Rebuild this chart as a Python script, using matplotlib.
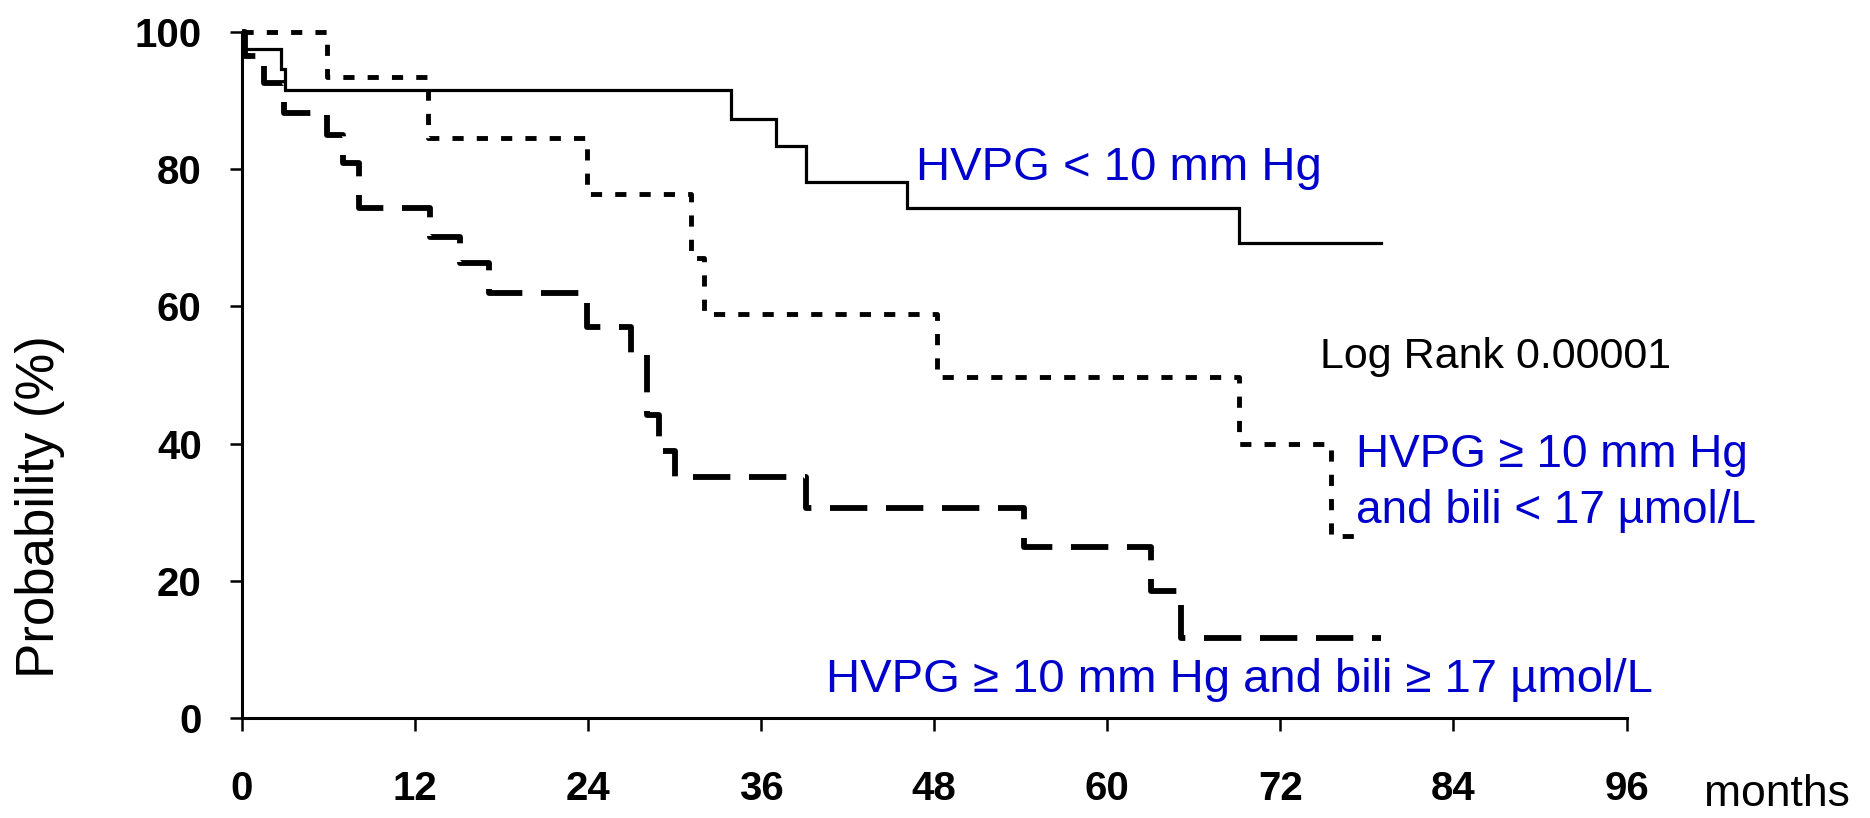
import matplotlib
matplotlib.use("Agg")
import matplotlib.pyplot as plt

# Kaplan-Meier style survival steps (months, % surviving)
months_low = [0, 0.1, 2.7, 3.0, 33.9, 37.0, 39.1, 46.1, 69.1, 79.0]
surv_low = [100, 97.5, 94.5, 91.5, 87.3, 83.3, 78.1, 74.3, 69.2, 69.2]

months_mid = [0, 5.9, 12.9, 23.9, 31.1, 32.0, 48.2, 69.1, 75.5, 77.6]
surv_mid = [100, 93.4, 84.5, 76.4, 67.0, 58.9, 49.7, 39.9, 26.6, 26.6]

months_high = [0, 0.2, 1.5, 2.9, 5.9, 7.0, 8.1, 13.05, 15.1, 17.1, 23.9,
               27.0, 28.1, 28.9, 30.0, 39.1, 54.2, 63.0, 65.1, 79.0]
surv_high = [100, 96.5, 92.6, 88.2, 85.0, 80.9, 74.3, 70.1, 66.3, 62.0, 57.0,
             53.1, 44.2, 39.0, 35.1, 30.7, 24.9, 18.5, 11.7, 11.7]

x_ticks = [0, 12, 24, 36, 48, 60, 72, 84, 96]
y_ticks = [0, 20, 40, 60, 80, 100]

label_low = "HVPG < 10 mm Hg"
label_mid = "HVPG \u2265 10 mm Hg\nand bili < 17 \u00b5mol/L"
label_high = "HVPG \u2265 10 mm Hg and bili \u2265 17 \u00b5mol/L"
logrank_text = "Log Rank 0.00001"

BLUE = "#0000CC"
FONT = "Liberation Sans"

W, H = 1870, 818
fig = plt.figure(figsize=(W / 100, H / 100), dpi=100)
ax = fig.add_axes([242 / W, (H - 718.3) / H, (1626.5 - 242) / W, 686.6 / H])

ax.step(months_low, surv_low, where="post", color="black", lw=2.3,
        clip_on=False, solid_joinstyle="miter")
ax.step(months_mid, surv_mid, where="post", color="black", lw=3.5,
        linestyle=(0, (2.3, 2.7)), dash_capstyle="butt", clip_on=False)
ax.step(months_high, surv_high, where="post", color="black", lw=4.2,
        linestyle=(0, (6.4, 3.2)), dash_capstyle="butt", clip_on=False)

ax.set_xlim(0, 96)
ax.set_ylim(0, 100)
ax.set_xticks(x_ticks)
ax.set_yticks(y_ticks)
ax.set_xticklabels([str(v) for v in x_ticks])
ax.set_yticklabels([str(v) for v in y_ticks])

for side in ("top", "right"):
    ax.spines[side].set_visible(False)
for side in ("left", "bottom"):
    ax.spines[side].set_linewidth(2.2)
    ax.spines[side].set_color("black")

ax.tick_params(axis="x", direction="out", length=9, width=1.8, pad=28)
ax.tick_params(axis="y", direction="out", length=9, width=1.8, pad=20)
for lab in ax.get_xticklabels() + ax.get_yticklabels():
    lab.set_fontfamily(FONT)
    lab.set_fontweight("bold")
    lab.set_fontsize(29)

# Axis titles
fig.text(40.5 / W, (H - 507) / H, "Probability (%)", rotation=90,
         ha="center", va="center", fontsize=38, family=FONT, color="black")
fig.text(1704 / W, (H - 806) / H, "months", ha="left", va="baseline",
         fontsize=32, family=FONT, color="black")

# Curve annotations
fig.text(916 / W, (H - 180) / H, label_low, ha="left", va="baseline",
         fontsize=34, family=FONT, color=BLUE)
fig.text(1320 / W, (H - 368) / H, logrank_text, ha="left", va="baseline",
         fontsize=31, family=FONT, color="black")
fig.text(1356 / W, (H - 466.7) / H, label_mid.split("\n")[0], ha="left",
         va="baseline", fontsize=33, family=FONT, color=BLUE)
fig.text(1356 / W, (H - 523.3) / H, label_mid.split("\n")[1], ha="left",
         va="baseline", fontsize=33, family=FONT, color=BLUE)
fig.text(826 / W, (H - 692) / H, label_high, ha="left", va="baseline",
         fontsize=34, family=FONT, color=BLUE)

fig.savefig("out.png", dpi=100, facecolor="white")
